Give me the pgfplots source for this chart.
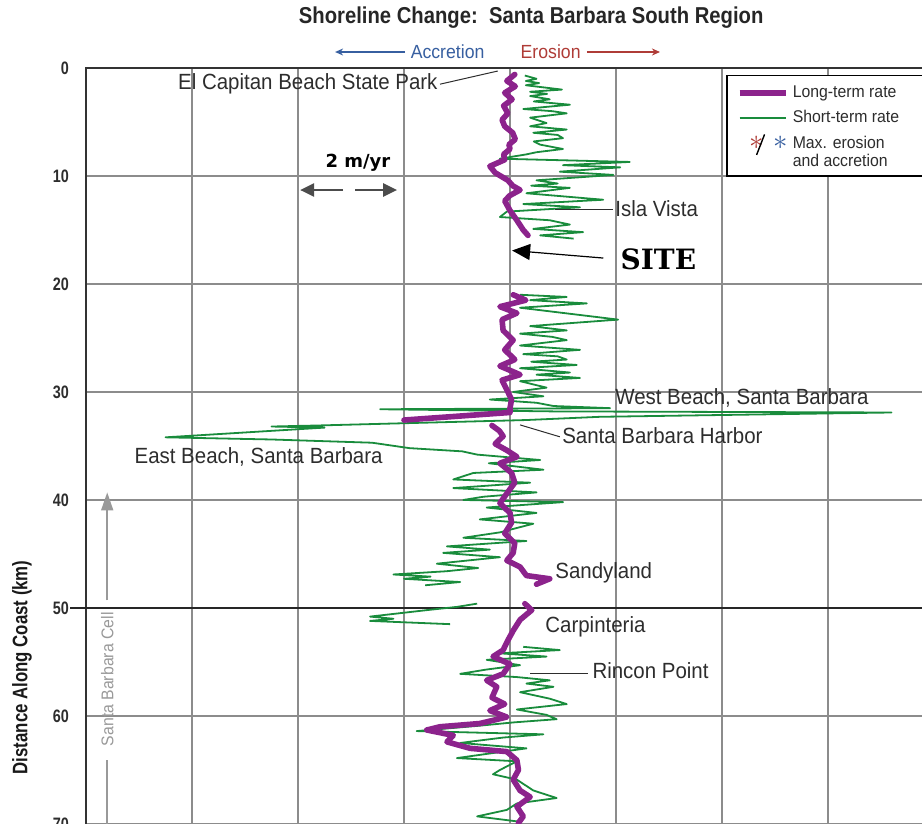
\documentclass[border=0pt]{standalone}
\usepackage{fontspec}
\setmainfont{Liberation Sans}
\newfontfamily\labfont{Liberation Sans}[FakeStretch=0.93]
\newfontfamily\titlefont{Liberation Sans}[FakeStretch=0.88]
\newfontfamily\axfont{Liberation Sans}[FakeStretch=0.8]
\newfontfamily\sitefont{DejaVu Serif}
\newfontfamily\dvsans{DejaVu Sans}
\usepackage{pgfplots}
\pgfplotsset{compat=1.18}
\usetikzlibrary{arrows.meta}

\definecolor{ltpurple}{RGB}{140,35,140}
\definecolor{stgreen}{RGB}{25,140,60}
\definecolor{gridgray}{RGB}{140,140,140}
\definecolor{accblue}{RGB}{55,95,160}
\definecolor{erored}{RGB}{175,60,55}
\definecolor{txt}{RGB}{45,45,45}

\begin{document}
\begin{tikzpicture}
\begin{axis}[
  scale only axis, width=437.25pt, height=388.8pt,
  xmin=-8, xmax=8.5, ymin=0, ymax=72, y dir=reverse,
  xtick={-8,-6,...,8}, xticklabels={},
  ytick={0,10,...,70},
  grid=major, major grid style={draw=gridgray, line width=0.9pt},
  major tick length=0pt,
  axis line style={draw=black!80, line width=1pt},
  /pgf/number format/assume math mode=true,
  yticklabel style={font=\axfont\bfseries\fontsize{9}{9}\selectfont, text=txt, xshift=-5pt},
  extra y ticks={50}, extra y tick labels={},
  extra y tick style={major grid style={draw=black!85, line width=1.1pt},
    major tick length=8pt, tick align=outside, tick style={black!85, line width=1.1pt}},
  clip=false,
  unbounded coords=jump,
  legend style={at={(axis cs:4.08,0.65)}, anchor=north west, draw=black, line width=0.7pt,
    fill=white, font=\labfont\fontsize{8.5}{9}\selectfont, text=txt,
    cells={anchor=west}, row sep=1pt, inner xsep=5pt, inner ysep=3pt},
]
% short-term rate
\addplot[stgreen, line width=0.9pt, line join=round, forget plot] coordinates {
(0.28,0.7) (0.5,1.0) (0.3,1.2) (0.55,1.4) (0.3,1.6) (0.98,2.0) (0.38,2.2) (0.7,2.4)
(0.38,2.6) (0.75,2.9) (0.45,3.1) (1.13,3.4) (0.25,3.8) (0.8,4.0) (1.07,4.2) (0.38,4.6)
(0.69,5.1) (0.38,5.4) (1.07,5.7) (0.44,6.0) (0.9,6.2) (1.0,6.5) (0.45,6.8) (0.57,7.1)
(1.0,7.5) (0.5,7.8) (0.31,8.0) (-0.19,8.4) (2.26,8.7) (1.0,9.0) (2.08,9.2) (0.94,9.6)
(1.95,9.9) (0.5,10.4) (0.9,10.7) (0.4,10.9) (1.13,11.1) (0.31,11.6) (1.76,12.2) (0.25,12.6)
(1.32,12.9) (-0.06,13.3) (-0.19,13.8) (0.75,14.1) (1.13,14.5) (0.44,14.9) (1.38,15.2)
(0.57,15.5) (1.2,15.8)
(nan,nan)
(0.19,21.0) (1.07,21.2) (0.38,21.5) (1.45,21.8) (0.19,22.2) (2.04,23.3) (0.38,23.9)
(1.07,24.3) (0.19,24.6) (0.8,24.9) (1.07,25.2) (0.19,25.7) (1.32,26.1) (0.25,26.5)
(0.9,26.7) (1.07,27.0) (0.4,27.2) (1.26,27.5) (0.19,27.8) (1.13,28.2) (0.5,28.4)
(1.32,28.7) (0.19,29.0) (0.69,29.6) (0.06,30.0) (0.63,30.4) (-0.38,30.7) (0.5,31.0)
(0.82,31.3) (1.89,31.5) (-2.45,31.6) (0.82,31.8) (7.2,31.9) (1.7,32.3) (0.3,32.6)
(-3.6,33.1) (-4.5,33.2) (-3.5,33.3) (-6.5,34.2) (-4.5,34.4) (-2.6,34.7) (-1.9,35.2)
(-0.9,35.5) (-0.62,35.8) (0.57,36.3) (-0.4,36.6) (0.63,37.2) (-0.69,37.5) (-1.07,38.1)
(0.38,38.4) (-1.07,38.9) (0.5,39.3) (-0.5,39.7) (-0.88,40.0) (1.0,40.2) (-0.44,40.7)
(0.5,41.2) (-0.57,41.8) (0.44,42.2) (-0.19,43.0) (-0.88,43.5) (0.31,43.8) (-1.19,44.3)
(-0.38,44.6) (-1.26,44.9) (-0.19,45.3) (-1.38,45.9) (-0.6,46.3) (-1.2,46.6) (-2.2,46.9)
(-1.5,47.1) (-2.0,47.3) (-0.94,47.6) (-1.6,47.9)
(nan,nan)
(-0.62,49.6) (-1.0,49.9) (-1.57,50.2) (-2.64,50.8) (-2.2,51.0) (-2.64,51.2) (-1.13,51.5)
(nan,nan)
(0.25,53.6) (0.94,53.9) (-0.19,54.2) (0.69,54.5) (-0.44,54.8) (0.19,55.3) (-0.44,55.7)
(-0.94,56.1) (0.13,56.4) (0.75,56.7) (0.31,57.0) (0.82,57.3) (0.19,57.8) (0.75,58.4)
(1.07,58.9) (0.13,59.4) (0.69,59.9) (0.88,60.3) (0.06,60.6) (-0.57,60.9) (-1.76,61.4)
(0.63,61.7) (-0.13,62.0) (-0.94,62.5) (0.31,63.0) (-1.0,63.9) (0.13,64.2) (-0.19,65.0)
(-0.32,65.4) (0.13,65.9) (0.44,66.9) (0.88,67.6) (0.13,68.1) (-0.06,68.7) (-0.62,69.3)
(0.19,69.8) (0.1,71)
};
% long-term rate
\addplot[ltpurple, line width=2.8pt, line join=round, line cap=round, forget plot] coordinates {
(0.09,0.6) (-0.06,1.2) (0.1,1.7) (-0.1,2.3) (0.04,2.9) (-0.12,3.5) (-0.04,4.2) (-0.15,4.8)
(-0.1,5.4) (0.05,6.0) (0.1,6.6) (-0.02,7.1) (0,7.5) (-0.12,8.0) (-0.1,8.5) (-0.38,9.1)
(-0.28,9.7) (-0.04,10.4) (0.05,10.9) (0.19,11.3) (0.0,11.8) (-0.1,12.3) (0,13.2)
(0.13,14.1) (0.25,15.0) (0.34,15.5)
(nan,nan)
(0.06,21.0) (0.3,21.5) (-0.19,22.1) (0.13,22.7) (-0.15,23.3) (-0.13,24.3) (0.06,25.2)
(-0.1,26.1) (0.09,27.0) (-0.19,27.6) (0.19,28.4) (-0.15,28.9) (-0.06,29.8) (0.03,30.7)
(0,31.5) (0.0,31.9) (-2.0,32.6)
(nan,nan)
(-0.34,33.1) (-0.2,33.6) (-0.13,34.1) (-0.28,34.8) (-0.06,35.4) (0.13,36.0) (-0.19,36.6)
(0.03,37.5) (0.09,38.4) (-0.06,39.4) (-0.19,40.3) (0,41.2) (0.03,42.1) (-0.1,43.1)
(0.09,44.0) (0.06,44.9) (-0.06,45.6) (0.19,46.2) (0.31,47.0) (0.75,47.3) (0.5,47.8)
(nan,nan)
(0.28,49.6) (0.41,50.2) (0.19,51.1) (0.06,52.1) (-0.04,53.0) (-0.13,53.9) (-0.32,54.5)
(0,55.2) (-0.13,56.1) (-0.44,56.7) (-0.25,57.3) (-0.34,58.3) (-0.1,58.9) (-0.38,59.5)
(-0.06,60.1) (-0.57,60.7) (-1.32,61.0) (-1.57,61.3) (-1.07,61.8) (-1.19,62.4) (-0.75,63.0)
(-0.06,63.3) (0.13,64.1) (0.16,65.0) (0.06,65.9) (0.19,66.9) (0.38,67.5) (0.13,68.4)
(0.25,69.3) (0.16,69.9) (0.2,71)
};

\addlegendimage{legend image code/.code={\draw[ltpurple, line width=2.6pt] (0cm,0cm) -- (0.82cm,0cm);}}
\addlegendentry{\makebox[66pt][l]{Long-term rate}}
\addlegendimage{legend image code/.code={\draw[stgreen, line width=0.8pt] (0cm,0cm) -- (0.82cm,0cm);}}
\addlegendentry{Short-term rate}
\addlegendimage{legend image code/.code={
  \node[inner sep=0pt, text=erored] at (0.16cm,-0.02cm) {\fontsize{15}{15}\selectfont$\ast$};
  \draw[black, line width=0.7pt] (0.3cm,-0.2cm) -- (0.44cm,0.16cm);
  \node[inner sep=0pt, text=accblue] at (0.58cm,-0.02cm) {\fontsize{15}{15}\selectfont$\ast$};
  \path (0cm,-0.45cm);}}
\addlegendentry{\begin{tabular}[t]{@{}l@{}}Max. erosion\\and accretion\end{tabular}}

% title and direction header
\node[font=\titlefont\bfseries\fontsize{11.5}{13}\selectfont, text=black!85] at (axis cs:0.4,-4.63)
  {Shoreline Change:\ \ Santa Barbara South Region};
\node[font=\labfont\fontsize{9.5}{10}\selectfont, text=accblue, anchor=west, inner sep=0pt]
  at (axis cs:-1.88,-1.48) {Accretion};
\draw[accblue, line width=0.7pt, -{Stealth[length=4pt,width=3.5pt]}] (axis cs:-1.98,-1.48) -- (axis cs:-3.3,-1.48);
\node[font=\labfont\fontsize{9.5}{10}\selectfont, text=erored, anchor=east, inner sep=0pt]
  at (axis cs:1.34,-1.48) {Erosion};
\draw[erored, line width=0.7pt, -{Stealth[length=4pt,width=3.5pt]}] (axis cs:1.45,-1.48) -- (axis cs:2.83,-1.48);

% place labels
\tikzset{lab/.style={font=\labfont\fontsize{11}{12}\selectfont, text=txt, inner sep=0pt}}
\node[lab, anchor=east] at (axis cs:-1.36,1.48) {El Capitan Beach State Park};
\draw[txt, line width=0.5pt] (axis cs:-1.32,1.5) -- (axis cs:-0.23,0.28);
\node[lab, anchor=west] at (axis cs:1.98,13.0) {Isla Vista};
\draw[txt, line width=0.6pt] (axis cs:0.85,13.1) -- (axis cs:1.94,13.1);
\node[font=\sitefont\bfseries\fontsize{14}{14}\selectfont, anchor=west, inner sep=0pt] at (axis cs:2.08,17.7) {SITE};
\draw[black, line width=0.6pt, -{Triangle[length=9pt,width=8pt]}] (axis cs:1.76,17.6) -- (axis cs:0.04,16.9);
\node[lab, anchor=west] at (axis cs:1.98,30.56) {West Beach, Santa Barbara};
\node[lab, anchor=west] at (axis cs:0.98,34.07) {Santa Barbara Harbor};
\draw[txt, line width=0.5pt] (axis cs:0.19,33.05) -- (axis cs:0.94,34.15);
\node[lab, anchor=west] at (axis cs:-7.09,36.0) {East Beach, Santa Barbara};
\node[lab, anchor=west] at (axis cs:0.85,46.76) {Sandyland};
\node[lab, anchor=west] at (axis cs:0.66,51.76) {Carpinteria};
\node[lab, anchor=west] at (axis cs:1.55,55.83) {Rincon Point};
\draw[txt, line width=0.6pt] (axis cs:0.38,56.1) -- (axis cs:1.47,56.1);

% scale bar
\node[font=\dvsans\bfseries\fontsize{9}{9}\selectfont, text=black] at (axis cs:-2.87,8.8) {2 m/yr};
\draw[black!70, line width=1.2pt, -{Triangle[length=7pt,width=6.5pt]}] (axis cs:-3.15,11.3) -- (axis cs:-3.96,11.3);
\draw[black!70, line width=1.2pt, -{Triangle[length=7pt,width=6.5pt]}] (axis cs:-2.92,11.3) -- (axis cs:-2.13,11.3);

% littoral cell marker
\draw[black!40, line width=0.8pt, -{Triangle[length=9pt,width=6pt]}] (axis cs:-7.6,49.3) -- (axis cs:-7.6,39.3);
\draw[black!40, line width=0.8pt] (axis cs:-7.6,64.1) -- (axis cs:-7.6,71);
\node[font=\labfont\fontsize{8.5}{9}\selectfont, text=black!40, rotate=90] at (axis cs:-7.6,56.6) {Santa Barbara Cell};

% axis label
\node[font=\axfont\bfseries\fontsize{10.5}{11}\selectfont, text=black!90, rotate=90] at (axis cs:-9.21,55.5)
  {Distance Along Coast (km)};

\coordinate (bbtl) at (axis cs:-9.623,-6.296);
\coordinate (bbbr) at (axis cs:7.774,70.0);
\end{axis}
\pgfresetboundingbox
\useasboundingbox (bbtl) rectangle (bbbr);
\end{tikzpicture}
\end{document}
